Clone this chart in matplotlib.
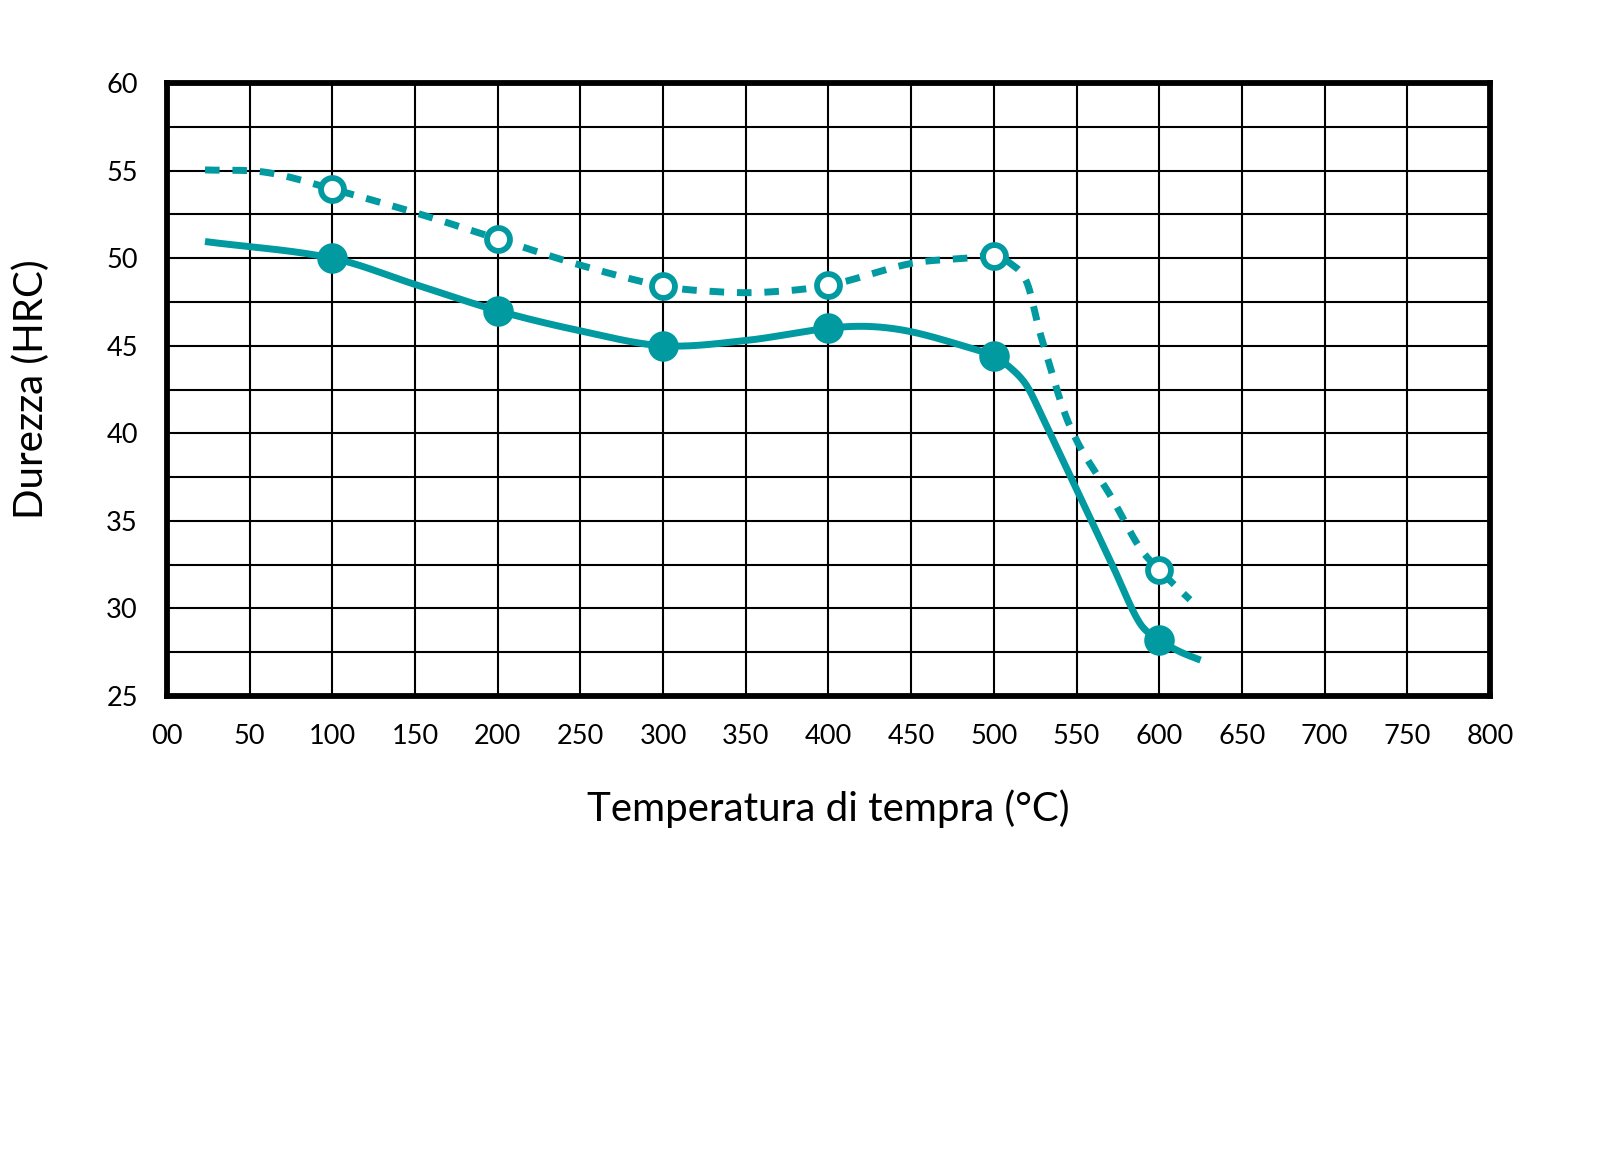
import numpy as np
import matplotlib
matplotlib.use("Agg")
import matplotlib.pyplot as plt

# ---- data ----
temp_points = [100, 200, 300, 400, 500, 600]
hard_solid = [50.0, 47.0, 45.0, 46.0, 44.4, 28.2]
hard_dashed = [53.95, 51.1, 48.4, 48.45, 50.1, 32.2]

# traced points along the drawn curves
solid_trace_x = [23, 100, 150, 200, 250, 300, 350, 400, 425, 450,
                 483, 500, 511.7, 520, 528, 550, 572, 588, 600, 612.5, 625]
solid_trace_y = [50.95, 50.0, 48.5, 47.0, 45.85, 45.0, 45.3,
                 46.0, 46.1, 45.8, 44.95, 44.4, 43.6, 42.7, 41.2, 36.8, 32.4, 29.2, 28.2,
                 27.53, 27.05]
dashed_trace_x = [23, 60, 100, 150, 200, 250, 300, 330, 360,
                  400, 450, 483.5, 500, 510, 520, 528, 546, 572, 588, 600, 618.6]
dashed_trace_y = [55.04, 54.9, 53.95, 52.6, 51.1, 49.6, 48.4, 48.1, 48.05,
                  48.45, 49.7, 50.0, 50.1, 49.7, 48.6, 45.7, 40.4, 36.2, 33.5, 32.2, 30.5]

x_ticks = list(range(0, 801, 50))
x_tick_labels = ["00"] + [str(v) for v in x_ticks[1:]]
y_ticks = list(range(25, 61, 5))

TEAL = "#009aa0"


def cardinal(x, y, xs):
    x = np.asarray(x, float)
    y = np.asarray(y, float)
    n = len(x)
    h = np.diff(x)
    m = np.zeros(n)
    m[1:-1] = (y[2:] - y[:-2]) / (x[2:] - x[:-2])
    m[0] = (y[1] - y[0]) / h[0]
    m[-1] = (y[-1] - y[-2]) / h[-1]
    idx = np.clip(np.searchsorted(x, xs) - 1, 0, n - 2)
    t = (xs - x[idx]) / h[idx]
    h00 = 2 * t**3 - 3 * t**2 + 1
    h10 = t**3 - 2 * t**2 + t
    h01 = -2 * t**3 + 3 * t**2
    h11 = t**3 - t**2
    return (h00 * y[idx] + h10 * h[idx] * m[idx] + h01 * y[idx + 1]
            + h11 * h[idx] * m[idx + 1])


plt.rcParams['font.family'] = ['Lato', 'DejaVu Sans']

fig = plt.figure(figsize=(16.21, 11.71), dpi=100)
ax = fig.add_axes([0.1030, 0.4056, 0.8162, 0.5235])

ax.set_xlim(0, 800)
ax.set_ylim(25, 60)

# grid
ax.set_xticks(x_ticks)
ax.set_xticklabels(x_tick_labels)
ax.set_yticks(y_ticks)
ax.set_yticks(np.arange(27.5, 60, 5), minor=True)
ax.grid(True, which='both', color='black', linewidth=1.5, zorder=1)
ax.tick_params(which='both', length=0)
ax.tick_params(axis='x', pad=20, labelsize=19.5)
ax.tick_params(axis='y', pad=21, labelsize=19.5)
for sp in ax.spines.values():
    sp.set_linewidth(4.2)
    sp.set_color('black')
    sp.set_zorder(5)
ax.set_axisbelow(True)

xs_s = np.linspace(solid_trace_x[0], solid_trace_x[-1], 800)
ax.plot(xs_s, cardinal(solid_trace_x, solid_trace_y, xs_s), color=TEAL, lw=5,
        solid_capstyle='butt', zorder=3)
xs_d = np.linspace(dashed_trace_x[0], dashed_trace_x[-1], 800)
ax.plot(xs_d, cardinal(dashed_trace_x, dashed_trace_y, xs_d), color=TEAL, lw=5,
        linestyle=(0, (2.1, 1.85)), dash_capstyle='butt', zorder=3)

ax.plot(temp_points, hard_solid, linestyle='none', marker='o', markersize=22,
        markerfacecolor=TEAL, markeredgewidth=0, zorder=4)
ax.plot(temp_points, hard_dashed, linestyle='none', marker='o', markersize=16.5,
        markerfacecolor='white', markeredgecolor=TEAL, markeredgewidth=4.2, zorder=4)

ax.set_xlabel("Temperatura di tempra (°C)", fontsize=29, va='center')
ax.xaxis.set_label_coords(0.5, -0.183)
ax.set_ylabel("Durezza (HRC)", fontsize=29, va='center')
ax.yaxis.set_label_coords(-0.1028, 0.5)

fig.savefig("out.png", dpi=100)
